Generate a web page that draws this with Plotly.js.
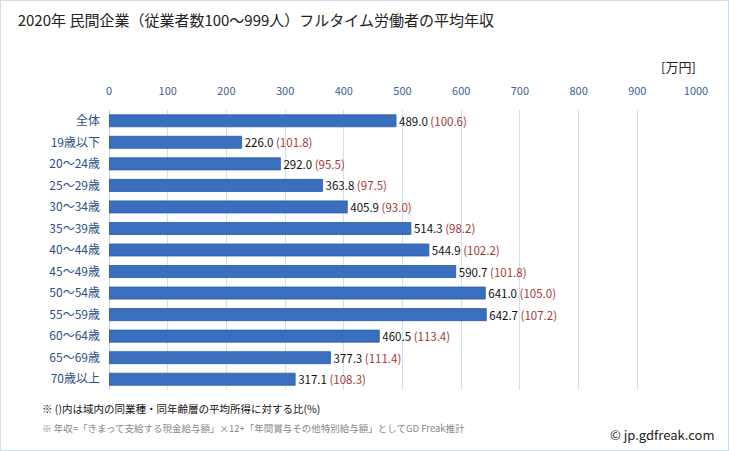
<!DOCTYPE html>
<html><head><meta charset="utf-8">
<script src="https://cdn.plot.ly/plotly-3.0.1.min.js"></script>
<style>html,body{margin:0;padding:0;background:#fff}#c{width:729px;height:451px;box-sizing:border-box;border:1px solid #d0dcea}</style>
</head><body><div id="c"></div>
<script>
const categories = ["全体","19歳以下","20～24歳","25～29歳","30～34歳","35～39歳","40～44歳","45～49歳","50～54歳","55～59歳","60～64歳","65～69歳","70歳以上"];
const incomes = [489.0,226.0,292.0,363.8,405.9,514.3,544.9,590.7,641.0,642.7,460.5,377.3,317.1];
const ratios = [100.6,101.8,95.5,97.5,93.0,98.2,102.2,101.8,105.0,107.2,113.4,111.4,108.3];
const tickVals = [0,100,200,300,400,500,600,700,800,900,1000];

const labels = incomes.map((v,i)=> v.toFixed(1)+' <span style="color:#a33a3a">('+ratios[i].toFixed(1)+')</span>');
const font = "Noto Sans CJK JP, Noto Sans, sans-serif";
const data = [{
  type:'bar', orientation:'h', y:categories, x:incomes,
  marker:{color:'#3a6fbf', line:{color:'#2c5a9e', width:0.8}},
  width:0.56,
  text:labels, textposition:'outside', cliponaxis:false, constraintext:'none',
  textfont:{size:11.5, color:'#111', family:font},
  hoverinfo:'none'
}];
const layout = {
  width:727, height:449,
  margin:{l:108, r:32, t:109, b:60},
  paper_bgcolor:'#fff', plot_bgcolor:'#fff',
  showlegend:false,
  font:{family:font},
  title:{text:'2020年 民間企業（従業者数100～999人）フルタイム労働者の平均年収', x:0.023, xanchor:'left', y:0.955, yanchor:'middle', font:{size:15, color:'#222', family:font}},
  xaxis:{side:'top', range:[0,1000], tickvals:tickVals, ticktext:tickVals.map(String), showgrid:true, gridcolor:'#d3e0ee', gridwidth:1, zeroline:true, zerolinecolor:'#c8d3e0', showline:false, ticks:'', tickfont:{size:11, color:'#3d5f96', family:font}, ticklen:0, ticklabelstandoff:12, automargin:false},
  yaxis:{autorange:'reversed', tickfont:{size:12, color:'#2e4f8a', family:font}, ticks:'', showgrid:false, automargin:false, ticklabelstandoff:8},
  annotations:[
    {text:'[万円]', xref:'paper', yref:'paper', x:1.003, y:1.154, xanchor:'right', yanchor:'middle', showarrow:false, font:{size:13, color:'#222', family:font}},
    {text:'※ ()内は域内の同業種・同年齢層の平均所得に対する比(%)', xref:'paper', yref:'paper', x:-0.118, xanchor:'left', y:-0.065, yanchor:'middle', showarrow:false, font:{size:10.5, color:'#111', family:font}},
    {text:'※ 年収=「きまって支給する現金給与額」×12+「年間賞与その他特別給与額」としてGD Freak推計', xref:'paper', yref:'paper', x:-0.118, xanchor:'left', y:-0.135, yanchor:'middle', showarrow:false, font:{size:9.5, color:'#888', family:font}},
    {text:'© jp.gdfreak.com', xref:'paper', yref:'paper', x:1.035, xanchor:'right', y:-0.16, yanchor:'middle', showarrow:false, font:{size:13, color:'#222', family:font}}
  ]
};
Plotly.newPlot('c', data, layout, {staticPlot:true, displayModeBar:false});
</script></body></html>
